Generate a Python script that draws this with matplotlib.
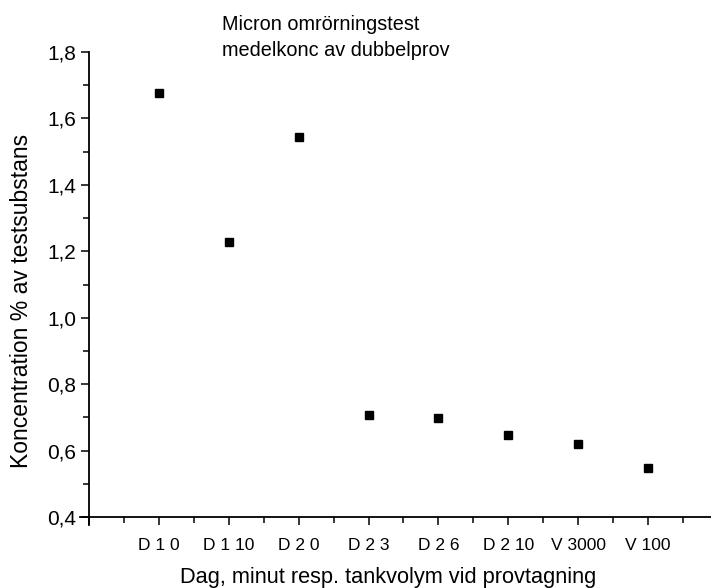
import matplotlib
matplotlib.use("Agg")
import matplotlib.pyplot as plt
from matplotlib.ticker import MultipleLocator, FuncFormatter
from matplotlib.lines import Line2D

categories = ["D 1 0", "D 1 10", "D 2 0", "D 2 3", "D 2 6", "D 2 10", "V 3000", "V 100"]
konc = [1.676, 1.228, 1.543, 0.708, 0.698, 0.647, 0.621, 0.547]

plt.rcParams['font.family'] = ['Liberation Sans', 'DejaVu Sans']

fig = plt.figure(figsize=(7.11, 5.88), dpi=100)
ax = fig.add_axes([89 / 711, 1 - 517 / 588, 1 - 89 / 711, (517 - 52) / 588])

xpos = list(range(1, len(categories) + 1))
ax.plot(xpos, konc, linestyle='none', marker='s', markersize=6.2, color='black')

ax.set_xlim(0, 8.9)
ax.set_ylim(0.4, 1.8)
ax.set_xticks([0] + xpos)
ax.set_xticklabels([""] + categories, fontsize=12.5)
ax.xaxis.set_minor_locator(MultipleLocator(0.5))
ax.yaxis.set_major_locator(MultipleLocator(0.2))
ax.yaxis.set_minor_locator(MultipleLocator(0.1))
ax.yaxis.set_major_formatter(FuncFormatter(lambda v, p: f"{v:.1f}".replace(".", ",")))
ax.tick_params(axis='y', labelsize=15)
ax.tick_params(which='major', direction='out', length=6, width=1.1, pad=3)
ax.tick_params(which='minor', direction='out', length=4, width=1.1)
ax.tick_params(axis='x', which='major', pad=9)

for s in ['top', 'right']:
    ax.spines[s].set_visible(False)
for s in ['left', 'bottom']:
    ax.spines[s].set_linewidth(1.3)

# small overhang of the axes where they cross
ax.add_line(Line2D([-9 / 622, 0], [0, 0], transform=ax.transAxes, color='black', lw=1.3, clip_on=False))
ax.add_line(Line2D([0, 0], [-8 / 465, 0], transform=ax.transAxes, color='black', lw=1.3, clip_on=False))

ax.set_xlabel("Dag, minut resp. tankvolym vid provtagning", fontsize=15.7)
ax.set_ylabel("Koncentration % av testsubstans", fontsize=16.5)
ax.xaxis.set_label_coords((388 - 89) / 622, -(577 - 517) / 465, transform=ax.transAxes)
ax.yaxis.set_label_coords(-(89 - 22) / 622, (517 - 301) / 465, transform=ax.transAxes)
ax.xaxis.label.set_va('center')
ax.yaxis.label.set_va('center')

fig.text(222 / 711, 1 - 24 / 588, "Micron omrörningstest", fontsize=14.3, ha='left', va='center')
fig.text(222 / 711, 1 - 50 / 588, "medelkonc av dubbelprov", fontsize=14.3, ha='left', va='center')

fig.savefig("out.png", dpi=100)
